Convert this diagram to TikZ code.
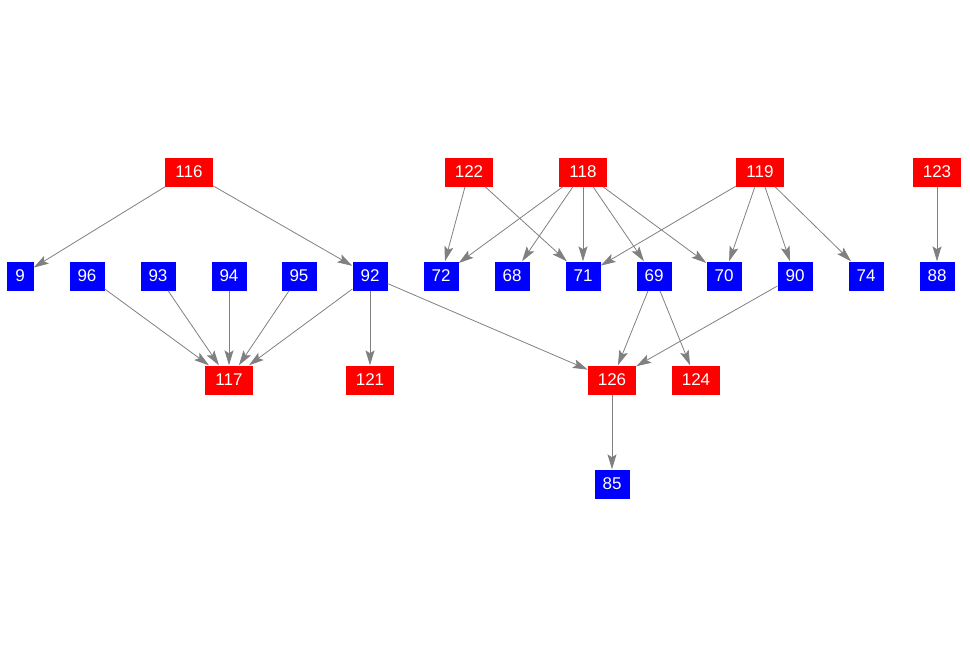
\documentclass[tikz,border=0pt]{standalone}
\usepackage{fontspec}
\setmainfont{Liberation Sans}
\usetikzlibrary{arrows.meta}
\usetikzlibrary{positioning}
\definecolor{edgegray}{RGB}{128,128,128}

\begin{document}
\begin{tikzpicture}[x=1pt, y=-1pt]
				\tikzstyle{rednode}=[draw=none, minimum height=29pt, minimum width=48pt, inner sep=0pt, fill=red, text=white, font=\fontsize{17}{20}\selectfont]
				\tikzstyle{bluenode}=[draw=none, minimum height=29pt, minimum width=35pt, inner sep=0pt, fill=blue, text=white, font=\fontsize{17}{20}\selectfont]
				\tikzstyle{link}=[draw=edgegray, line width=0.8pt, -{Stealth[length=15pt, width=9pt, inset=3pt]}]
				
				\useasboundingbox (0,0) rectangle (970,656);
				
				% top row
				\node (n116) at (189,172) [rednode] {116};
				\node (n122) at (469,172) [rednode] {122};
				\node (n118) at (583,172) [rednode] {118};
				\node (n119) at (760,172) [rednode] {119};
				\node (n123) at (937,172) [rednode] {123};
				
				% middle row
				\node (n9)  at (20,276)  [bluenode, minimum width=27pt] {9};
				\node (n96) at (87,276)  [bluenode] {96};
				\node (n93) at (158,276) [bluenode] {93};
				\node (n94) at (229,276) [bluenode] {94};
				\node (n95) at (299,276) [bluenode] {95};
				\node (n92) at (370,276) [bluenode] {92};
				\node (n72) at (441,276) [bluenode] {72};
				\node (n68) at (512,276) [bluenode] {68};
				\node (n71) at (583,276) [bluenode] {71};
				\node (n69) at (654,276) [bluenode] {69};
				\node (n70) at (724,276) [bluenode] {70};
				\node (n90) at (795,276) [bluenode] {90};
				\node (n74) at (866,276) [bluenode] {74};
				\node (n88) at (937,276) [bluenode] {88};
				
				% bottom rows
				\node (n117) at (229,380) [rednode] {117};
				\node (n121) at (370,380) [rednode] {121};
				\node (n126) at (612,380) [rednode] {126};
				\node (n124) at (696,380) [rednode] {124};
				\node (n85)  at (612,484) [bluenode] {85};
				
				\foreach \a/\b in {116/9, 116/92, 96/117, 93/117, 94/117, 95/117, 92/117, 92/121, 92/126,
				                   122/72, 122/71, 118/72, 118/68, 118/71, 118/69, 118/70,
				                   119/71, 119/70, 119/90, 119/74, 123/88,
				                   69/126, 69/124, 90/126, 126/85}
				  \draw [link] (n\a) -- (n\b);
				\end{tikzpicture}
\end{document}
